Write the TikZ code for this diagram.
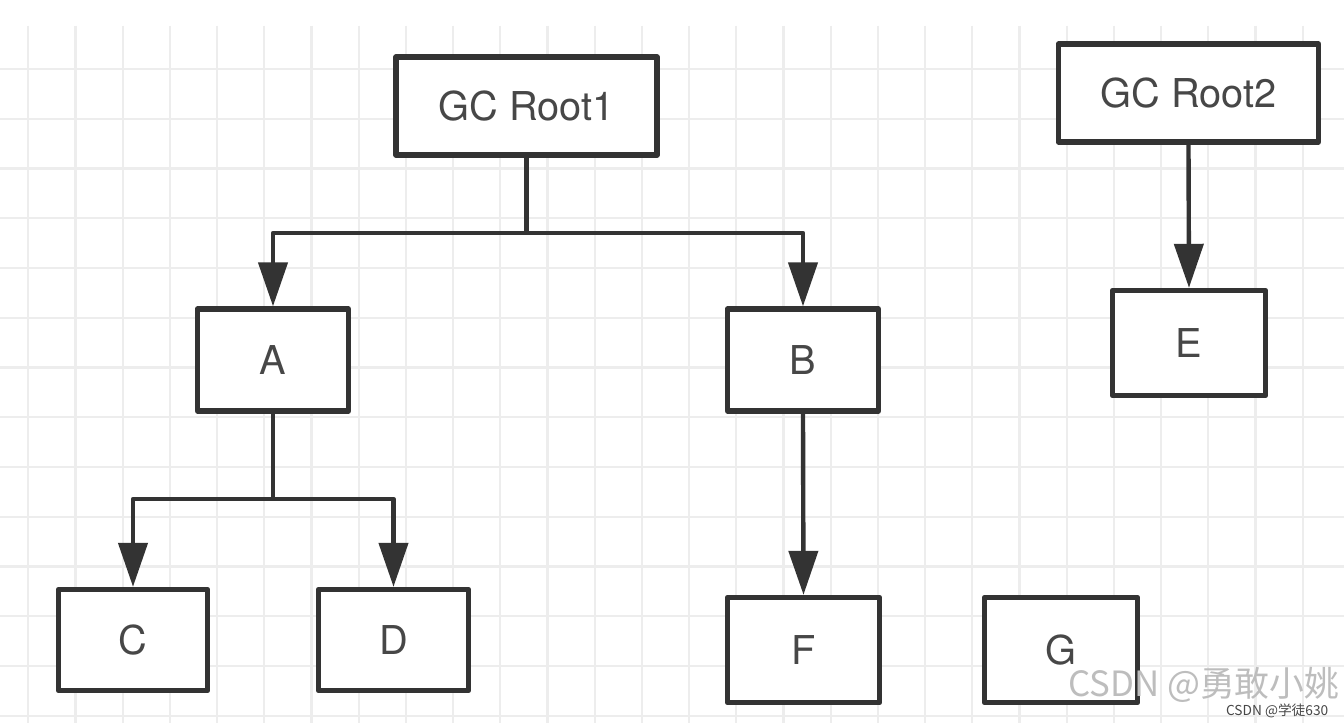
\documentclass[tikz,border=0pt]{standalone}
\usepackage{fontspec}
\newfontfamily\hv{TeX Gyre Heros}
\newfontfamily\cjk{Noto Sans CJK SC}
\usetikzlibrary{arrows.meta}
\definecolor{ink}{HTML}{333333}
\definecolor{gridc}{HTML}{EDEDED}
\definecolor{wm}{HTML}{BDBDBD}
\tikzset{
  box/.style={draw=ink, line width=1.5pt, line join=round, fill=white, inner sep=0pt,
    font=\hv\fontsize{11.3}{13}\selectfont, text=ink!90},
  link/.style={draw=ink, line width=1.25pt, line join=round},
  arr/.style={link, -{Triangle[length=0.44cm,width=0.29cm]}},
  gridline/.style={draw=gridc, line width=0.6pt}
}
\begin{document}
\begin{tikzpicture}[x=0.01cm,y=-0.01cm]
\useasboundingbox (0,0) rectangle (1344,728);
\fill[white] (0,0) rectangle (1344,728);
% grid
\foreach \k in {0,...,27} {
  \pgfmathsetmacro{\gx}{28.3+47.2*\k}
  \draw[gridline] (\gx,26) -- (\gx,723);
}
\foreach \k in {0,...,13} {
  \pgfmathsetmacro{\gy}{69+49.75*\k}
  \draw[gridline] (0,\gy) -- (1344,\gy);
}
% nodes
\node[box, minimum width=2.61cm, minimum height=0.98cm] (r1) at (526.5,106) {GC Root1};
\node[box, minimum width=2.60cm, minimum height=0.98cm] (r2) at (1188.5,93) {GC Root2};
\node[box, minimum width=1.51cm, minimum height=1.02cm] (A) at (273,360) {A};
\node[box, minimum width=1.51cm, minimum height=1.02cm] (B) at (803,360) {B};
\node[box, minimum width=1.53cm, minimum height=1.05cm] (E) at (1189,343) {E};
\node[box, minimum width=1.49cm, minimum height=1.01cm] (C) at (133,640) {C};
\node[box, minimum width=1.50cm, minimum height=1.01cm] (D) at (393.5,640) {D};
\node[box, minimum width=1.52cm, minimum height=1.05cm] (F) at (803.5,650) {F};
\node[box, minimum width=1.53cm, minimum height=1.05cm] (G) at (1061,650) {G};
% junctions
\coordinate (j1) at (526.5,233);
\coordinate (j2) at (273,499);
% connectors
\draw[link] (r1.south) -- (j1);
\draw[arr] (j1) -| (A.north);
\draw[arr] (j1) -| (B.north);
\draw[link] (A.south) -- (j2);
\draw[arr] (j2) -| (C.north);
\draw[arr] (j2) -| (D.north);
\draw[arr] (B.south) -- (F.north);
\draw[arr] (r2.south) -- (E.north);
% watermarks
\node[anchor=base east, inner sep=0pt, text=wm, font=\cjk\fontsize{9.9}{11}\selectfont] (wm1) at (1340,697) {CSDN @勇敢小姚};
\node[anchor=base east, inner sep=0pt, text=ink!90, font=\cjk\fontsize{3.9}{5}\selectfont] (wm2) at (1329,716) {CSDN @学徒630};
\end{tikzpicture}
\end{document}
